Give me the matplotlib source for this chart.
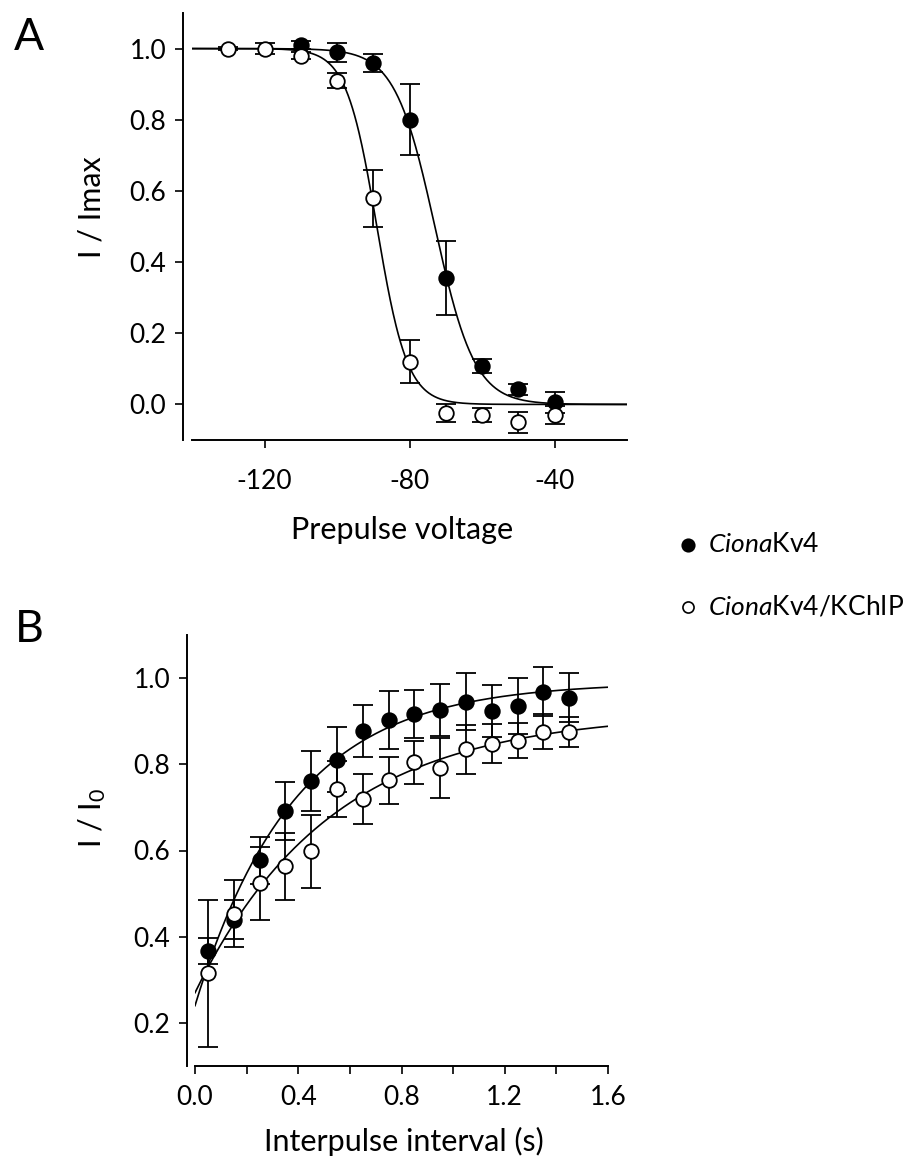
import numpy as np
import matplotlib
matplotlib.use('Agg')
import matplotlib.pyplot as plt
from matplotlib.lines import Line2D

plt.rcParams['font.family'] = ['Lato', 'DejaVu Sans']
plt.rcParams['mathtext.fontset'] = 'custom'
plt.rcParams['mathtext.rm'] = 'Lato'
plt.rcParams['mathtext.it'] = 'Lato:italic'
plt.rcParams['axes.unicode_minus'] = False

# ---------------- Panel A data (steady-state inactivation) ----------------
va_filled = [-110, -100, -90, -80, -70, -60, -50, -40]
ia_filled = [1.01, 0.99, 0.96, 0.80, 0.355, 0.107, 0.042, 0.006]
ea_filled = [0.012, 0.027, 0.026, 0.10, 0.105, 0.02, 0.016, 0.03]

va_open = [-130, -120, -110, -100, -90, -80, -70, -60, -50, -40]
ia_open = [1.0, 1.0, 0.98, 0.91, 0.58, 0.12, -0.025, -0.03, -0.05, -0.03]
ea_open = [0.005, 0.016, 0.01, 0.02, 0.08, 0.06, 0.025, 0.02, 0.03, 0.025]

# Boltzmann fit parameters (V1/2, slope k)
vhalf_filled, k_filled = -73.0, 5.5
vhalf_open, k_open = -89.0, 4.2

# ---------------- Panel B data (recovery from inactivation) ----------------
tb = [0.05, 0.15, 0.25, 0.35, 0.45, 0.55, 0.65, 0.75, 0.85, 0.95,
      1.05, 1.15, 1.25, 1.35, 1.45]
ib_filled = [0.366, 0.439, 0.577, 0.692, 0.761, 0.811, 0.878, 0.903, 0.917,
             0.926, 0.945, 0.924, 0.935, 0.968, 0.954]
eb_filled = [0.03, 0.045, 0.055, 0.067, 0.069, 0.076, 0.06, 0.067, 0.055,
             0.06, 0.066, 0.06, 0.065, 0.057, 0.057]
ib_open = [0.315, 0.453, 0.524, 0.563, 0.598, 0.742, 0.720, 0.763, 0.805,
           0.791, 0.835, 0.848, 0.855, 0.876, 0.874]
eb_open = [0.17, 0.078, 0.085, 0.078, 0.085, 0.065, 0.058, 0.055, 0.05,
           0.07, 0.057, 0.045, 0.04, 0.04, 0.035]

# Exponential recovery fit parameters (y0, y_inf, tau)
fit_filled = (0.24, 0.99, 0.38)
fit_open = (0.27, 0.92, 0.53)

legend_labels = [r'$\mathit{Ciona}$Kv4', r'$\mathit{Ciona}$Kv4/KChIP']

W, H = 919, 1161
DPI = 100
fig = plt.figure(figsize=(W / DPI, H / DPI), dpi=DPI)


def px_axes(left, top, right, bottom):
    return fig.add_axes([left / W, 1 - bottom / H, (right - left) / W, (bottom - top) / H])


def style(ax, offset_px, xpad):
    for s in ['top', 'right']:
        ax.spines[s].set_visible(False)
    for s in ['left', 'bottom']:
        ax.spines[s].set_linewidth(1.4)
    ax.spines['left'].set_position(('outward', offset_px * 72 / DPI))
    ax.tick_params(direction='out', length=6, width=1.2, labelsize=19)
    ax.tick_params(axis='y', pad=6)
    ax.tick_params(axis='x', pad=xpad)


ms = 10.5
mew = 1.3
eb_kw = dict(fmt='none', ecolor='black', elinewidth=1.3, capsize=7, capthick=1.3, zorder=2)

# ---------------- Panel A ----------------
axA = px_axes(192, 13, 627, 440)
style(axA, 9, 15)
v = np.linspace(-140, -20, 600)
axA.plot(v, 1 / (1 + np.exp((v - vhalf_filled) / k_filled)), color='black', lw=1.2, zorder=1)
axA.plot(v, 1 / (1 + np.exp((v - vhalf_open) / k_open)), color='black', lw=1.2, zorder=1)
axA.errorbar(va_filled, ia_filled, yerr=ea_filled, **eb_kw)
axA.errorbar(va_open, ia_open, yerr=ea_open, **eb_kw)
axA.plot(va_filled, ia_filled, 'o', ms=ms, mfc='black', mec='black', mew=mew, zorder=3)
axA.plot(va_open, ia_open, 'o', ms=ms, mfc='white', mec='black', mew=mew, zorder=3)
axA.set_xlim(-140, -20)
axA.set_ylim(-0.1, 1.1)
axA.set_xticks([-120, -80, -40])
axA.set_yticks([0.0, 0.2, 0.4, 0.6, 0.8, 1.0])
axA.set_yticklabels(['0.0', '0.2', '0.4', '0.6', '0.8', '1.0'])

# ---------------- Panel B ----------------
axB = px_axes(195, 635, 608, 1066)
style(axB, 8, 8)
t = np.linspace(0, 1.6, 400)
for (y0, yinf, tau) in [fit_filled, fit_open]:
    axB.plot(t, yinf - (yinf - y0) * np.exp(-t / tau), color='black', lw=1.2, zorder=1)
axB.errorbar(tb, ib_filled, yerr=eb_filled, **eb_kw)
axB.errorbar(tb, ib_open, yerr=eb_open, **eb_kw)
axB.plot(tb, ib_filled, 'o', ms=ms, mfc='black', mec='black', mew=mew, zorder=3)
axB.plot(tb, ib_open, 'o', ms=ms, mfc='white', mec='black', mew=mew, zorder=3)
axB.set_xlim(0, 1.6)
axB.set_ylim(0.1, 1.1)
xt = [0.0, 0.2, 0.4, 0.6, 0.8, 1.0, 1.2, 1.4, 1.6]
axB.set_xticks(xt)
axB.set_xticklabels(['0.0', '', '0.4', '', '0.8', '', '1.2', '', '1.6'])
axB.set_yticks([0.2, 0.4, 0.6, 0.8, 1.0])
axB.set_yticklabels(['0.2', '0.4', '0.6', '0.8', '1.0'])


def ftext(x, y, s, **kw):
    fig.text(x / W, 1 - y / H, s, **kw)


# axis labels
ftext(402, 530, 'Prepulse voltage', fontsize=22, ha='center', va='center')
ftext(404, 1141, 'Interpulse interval (s)', fontsize=22, ha='center', va='center')
ftext(92, 207, 'I / Imax', fontsize=22, ha='center', va='center', rotation=90)
ftext(92, 818, r'I / I$_{\mathrm{0}}$', fontsize=22, ha='center', va='center', rotation=90)

# panel letters
ftext(29, 37, 'A', fontsize=32, ha='center', va='center')
ftext(29, 629, 'B', fontsize=32, ha='center', va='center')

# legend
for (yy, fc, lab, m) in [(545, 'black', legend_labels[0], 9), (607, 'white', legend_labels[1], 8)]:
    fig.add_artist(Line2D([688 / W], [1 - yy / H], marker='o', ms=m, mfc=fc, mec='black',
                          mew=1.2, transform=fig.transFigure, linestyle='none'))
    ftext(708, yy, lab, fontsize=19, ha='left', va='center')

fig.savefig('out.png', dpi=DPI, facecolor='white')
